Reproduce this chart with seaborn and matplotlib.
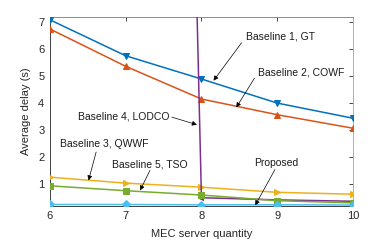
import matplotlib
matplotlib.use("Agg")
import matplotlib.pyplot as plt
import seaborn as sns
import pandas as pd

servers = [6, 7, 8, 9, 10]
gt = [7.08, 5.75, 4.89, 4.00, 3.44]
cowf = [6.74, 5.36, 4.15, 3.57, 3.07]
qwwf = [1.26, 1.04, 0.89, 0.70, 0.63]
lodco = [150.0, 118.0, 0.50, 0.42, 0.37]
tso = [0.94, 0.76, 0.60, 0.39, 0.31]
proposed = [0.25, 0.25, 0.24, 0.24, 0.23]

series_names = ["Baseline 1, GT", "Baseline 2, COWF", "Baseline 3, QWWF",
                "Baseline 4, LODCO", "Baseline 5, TSO", "Proposed"]
series_vals = [gt, cowf, qwwf, lodco, tso, proposed]
colors = ["#0072BD", "#D95319", "#EDB120", "#7E2F8E", "#77AC30", "#4DBEEE"]
markers = ["v", "^", ">", "<", "s", "D"]
msizes = [5, 5, 5, 3, 4, 4]

sns.set_theme(style="white")
plt.rcParams['font.family'] = ['Liberation Sans', 'DejaVu Sans']

fig = plt.figure(figsize=(3.9, 2.41), dpi=100)
ax = fig.add_axes([0.128, 0.147, 0.777, 0.781])

for name, vals, c, m, ms in zip(series_names, series_vals, colors, markers, msizes):
    df = pd.DataFrame({"x": servers, "y": vals})
    sns.lineplot(data=df, x="x", y="y", ax=ax, color=c, marker=m, markersize=ms,
                 markeredgecolor=c, linewidth=1.1, zorder=3)

ax.set_xlim(6, 10)
ax.set_ylim(0.21, 7.17)
ax.set_xticks([6, 7, 8, 9, 10])
ax.set_yticks([1, 2, 3, 4, 5, 6, 7])
ax.tick_params(direction="in", top=True, right=True, length=3, width=0.6,
               labelsize=8, colors="#262626", pad=4)
for s in ax.spines.values():
    s.set_visible(True)
    s.set_linewidth(0.7)
ax.spines["left"].set_color("#404040")
ax.spines["bottom"].set_color("#404040")
ax.spines["top"].set_color("#8c8c8c")
ax.spines["right"].set_color("#b0b0b0")
ax.set_xlabel("MEC server quantity", fontsize=8, color="#262626", labelpad=6)
ax.set_ylabel("Average delay (s)", fontsize=8, color="#262626", labelpad=5)

notes = [
    ("Baseline 1, GT", (9.04, 6.45), (8.53, 6.23), (8.16, 4.83)),
    ("Baseline 2, COWF", (9.32, 5.12), (8.70, 4.92), (8.46, 3.84)),
    ("Baseline 4, LODCO", (6.97, 3.50), (7.61, 3.48), (7.94, 3.20)),
    ("Baseline 3, QWWF", (6.72, 2.48), (6.61, 2.19), (6.51, 1.14)),
    ("Baseline 5, TSO", (7.32, 1.74), (7.32, 1.51), (7.19, 0.77)),
    ("Proposed", (8.99, 1.79), (8.97, 1.54), (8.71, 0.22)),
]
for txt, tpos, tail, head in notes:
    ax.text(tpos[0], tpos[1], txt, fontsize=7.5, ha="center", va="center",
            color="#1a1a1a", zorder=5)
    ax.annotate("", xy=head, xytext=tail,
                arrowprops=dict(arrowstyle="-|>", color="black", lw=0.5,
                                mutation_scale=7, shrinkA=0, shrinkB=0),
                zorder=5)

fig.savefig("out.png", dpi=100)
